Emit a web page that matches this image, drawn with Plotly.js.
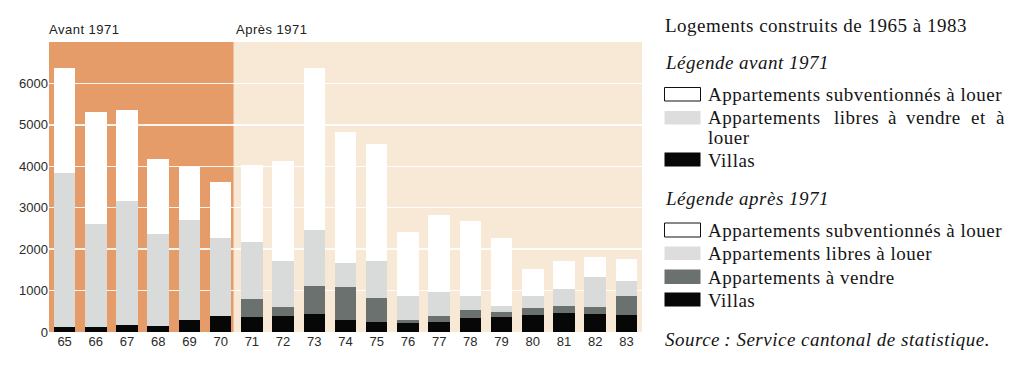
<!DOCTYPE html>
<html>
<head>
<meta charset="utf-8">
<script src="https://cdn.plot.ly/plotly-3.0.1.min.js"></script>
<style>
html,body{margin:0;padding:0;background:#fff;}
#chart{width:1024px;height:368px;}
.annotation-text{letter-spacing:0.5px;}
</style>
</head>
<body>
<div id="chart"></div>
<script>
// ---- data ----
const years = ['65','66','67','68','69','70','71','72','73','74','75','76','77','78','79','80','81','82','83'];
const villas = [130,130,180,140,300,380, 360,390,425,300,230,215,240,335,360,400,455,440,410];
const aptVendre = [null,null,null,null,null,null, 440,210,685,775,590,65,150,205,130,185,170,160,450];
const aptLibres = [3720,2480,2980,2220,2410,1880, 1370,1120,1350,585,895,585,565,340,135,295,410,730,365];
const aptSubv = [2530,2710,2210,1820,1270,1360, 1850,2400,3920,3170,2815,1550,1860,1800,1655,635,690,490,545];
const yTicks = [0,1000,2000,3000,4000,5000,6000];

const title = 'Logements construits de 1965 à 1983';
const legAvantTitle = 'Légende avant 1971';
const legApresTitle = 'Légende après 1971';
const labSubv = 'Appartements subventionnés à louer';
const labLibresVL = ['Appartements','libres','à','vendre','et','à'];
const labLibresVL2 = 'louer';
const labLibres = 'Appartements libres à louer';
const labVendre = 'Appartements à vendre';
const labVillas = 'Villas';
const source = 'Source\u2009: Service cantonal de statistique.';

// ---- colours ----
const cOrange = '#E59C69', cBeige = '#F8E9D7';
const cWhite = '#FFFFFF', cLight = '#D9DBDA', cDark = '#6B716F', cBlack = '#070707';

// ---- layout geometry ----
const L = 49, R = 382, T = 42, B = 36, W = 1024, H = 368;
const PW = W - L - R, PH = H - T - B;
const X = px => (px - L) / PW;
const Y = py => (H - B - py) / PH;

const bar = (y, color, name) => ({
  type: 'bar', x: years, y: y, name: name,
  marker: {color: color, line: {width: 0}},
  hoverinfo: 'skip'
});
const traces = [
  bar(villas, cBlack, 'Villas'),
  bar(aptVendre, cDark, 'Appartements à vendre'),
  bar(aptLibres, cLight, 'Appartements libres'),
  bar(aptSubv, cWhite, 'Appartements subventionnés à louer')
];

const serif = 'Liberation Serif, Times New Roman, serif';
const sans = 'Liberation Sans, Arial, sans-serif';
const FS = 19;

const shapes = [
  {type:'rect', xref:'x', yref:'paper', x0:-0.5, x1:5.42, y0:0, y1:1, fillcolor:cOrange, line:{width:0}, layer:'below'},
  {type:'rect', xref:'x', yref:'paper', x0:5.42, x1:18.5, y0:0, y1:1, fillcolor:cBeige, line:{width:0}, layer:'below'}
];
const sw = (y0, y1, fill, outline) => shapes.push({
  type:'rect', xref:'paper', yref:'paper', x0:X(664.5), x1:X(700.5), y0:Y(y1), y1:Y(y0),
  fillcolor: fill, line: outline ? {color:'#111', width:1} : {width:0}
});
sw(87.5, 101, cWhite, true);
sw(111, 124.5, '#DCDDDC', false);
sw(152.5, 166.5, cBlack, false);
sw(223, 237, cWhite, true);
sw(246.5, 260, '#DCDDDC', false);
sw(269.5, 284, cDark, false);
sw(292.5, 306.5, cBlack, false);

const annotations = [];
const txt = (text, px, py, opts) => annotations.push(Object.assign({
  text: text, xref:'paper', yref:'paper', x: X(px), y: Y(py),
  xanchor:'left', yanchor:'middle', showarrow:false,
  font:{family: serif, size: FS, color:'#151515'}
}, opts || {}));

txt(title, 663, 25);
txt('<i>' + legAvantTitle + '</i>', 663, 62);
txt(labSubv, 706, 94);
const wordX = [706, 831.5, 885.5, 904.5, 968.5, 994.5];
labLibresVL.forEach((w, i) => txt(w, wordX[i], 118));
txt(labLibresVL2, 706, 137);
txt(labVillas, 706, 160);
txt('<i>' + legApresTitle + '</i>', 663, 198);
txt(labSubv, 706, 230);
txt(labLibres, 706, 253.5);
txt(labVendre, 706, 277);
txt(labVillas, 706, 300);
txt('<i>' + source + '</i>', 663, 339.5);
txt('Avant 1971', 46.5, 30, {font:{family:sans, size:13, color:'#222'}});
txt('Après 1971', 233.5, 30, {font:{family:sans, size:13, color:'#222'}});

const layout = {
  width: W, height: H,
  margin: {l: L, r: R, t: T, b: B, pad: 0},
  paper_bgcolor: '#fff', plot_bgcolor: 'rgba(0,0,0,0)',
  barmode: 'stack', bargap: 0.31,
  showlegend: false,
  xaxis: {
    type: 'category', range: [-0.5, 18.5], fixedrange: true,
    showgrid: false, zeroline: false, showline: false, ticks: '',
    tickfont: {family: sans, size: 13, color: '#2a2a2a'}
  },
  yaxis: {
    range: [0, 7000], tickvals: yTicks, fixedrange: true,
    showgrid: true, gridcolor: 'rgba(255,255,255,0.9)', gridwidth: 1.5,
    zeroline: false, showline: false, ticks: '',
    tickfont: {family: sans, size: 13, color: '#2a2a2a'}
  },
  shapes: shapes,
  annotations: annotations
};

Plotly.newPlot('chart', traces, layout, {staticPlot: true, displayModeBar: false});
</script>
</body>
</html>
